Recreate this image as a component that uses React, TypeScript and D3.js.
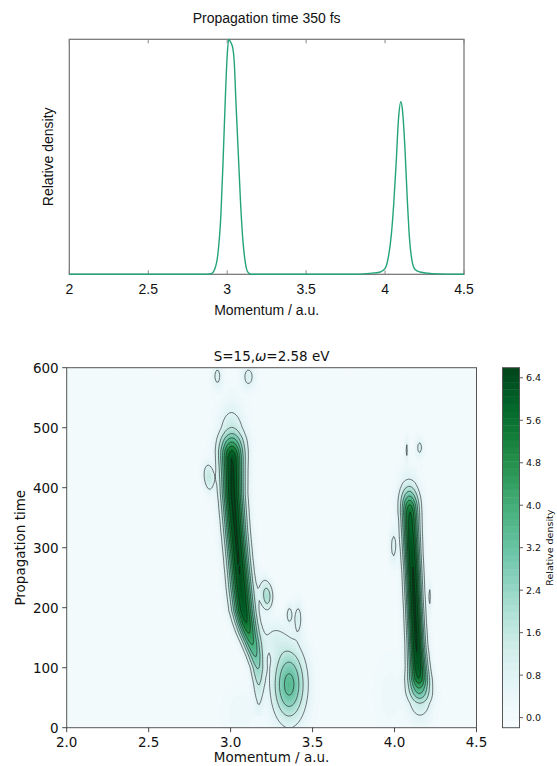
import React, { useMemo } from "react";
import * as d3 from "d3";

// ---------- Top panel: cut at 350 fs ----------
const topTitle = "Propagation time 350 fs";
const topMomentum = [2.0, 2.6, 2.85, 2.9, 2.92, 2.94, 2.96, 2.975, 2.99, 3.0, 3.01, 3.02, 3.035, 3.045, 3.055, 3.07, 3.085, 3.1, 3.115, 3.13, 3.15, 3.4, 3.8, 3.9, 3.97, 4.0, 4.02, 4.04, 4.055, 4.07, 4.085, 4.1, 4.11, 4.125, 4.14, 4.155, 4.17, 4.19, 4.22, 4.3, 4.5];
const topDensity = [0, 0, 0, 0.003, 0.02, 0.08, 0.25, 0.5, 0.78, 0.93, 1.0, 0.99, 0.965, 0.9, 0.74, 0.52, 0.3, 0.14, 0.05, 0.01, 0, 0, 0, 0.004, 0.01, 0.025, 0.07, 0.17, 0.3, 0.47, 0.66, 0.734, 0.7, 0.55, 0.33, 0.15, 0.06, 0.02, 0.01, 0.003, 0];
const topTicks = [2, 2.5, 3, 3.5, 4, 4.5];
const topTickLabels = ["2", "2.5", "3", "3.5", "4", "4.5"];

// ---------- Bottom panel: momentum-time density map ----------
const mapTitleA = "S=15,";
const mapTitleOmega = "ω";
const mapTitleB = "=2.58 eV";

// main ridge near 3.0 a.u.
const ridgeATime = [20, 46, 75, 100, 120, 140, 158, 175, 195, 230, 280, 330, 390, 430, 450, 462, 469, 476, 483, 490, 500, 525, 550, 580];
const ridgeAAmp = [0.3, 0.8, 1.6, 2.4, 3.2, 4.0, 4.8, 5.6, 6.1, 6.35, 6.45, 6.5, 6.58, 6.5, 6.4, 5.6, 4.8, 4.0, 3.2, 2.4, 1.6, 0.8, 0.35, 0.05];
const ridgeACenter = [3.17, 3.172, 3.17, 3.165, 3.15, 3.13, 3.11, 3.095, 3.08, 3.065, 3.047, 3.03, 3.013, 3.01, 3.008, 3.007, 3.007, 3.007, 3.007, 3.007, 3.007, 3.005, 3.005, 3.005];
const ridgeAWidth = [0.02, 0.02, 0.025, 0.03, 0.034, 0.038, 0.041, 0.043, 0.045, 0.045, 0.044, 0.044, 0.045, 0.047, 0.049, 0.051, 0.052, 0.053, 0.054, 0.054, 0.054, 0.053, 0.05, 0.05];

// ridge near 4.1 a.u.
const ridgeBTime = [0, 21, 41, 49, 57, 66, 74, 82, 100, 140, 200, 260, 300, 330, 350, 360, 372, 379, 386, 394, 402, 414, 440, 470];
const ridgeBAmp = [0.3, 0.8, 1.6, 2.4, 3.2, 4.0, 4.8, 5.6, 6.2, 6.5, 6.55, 6.5, 6.3, 6.0, 5.8, 5.6, 4.8, 4.0, 3.2, 2.4, 1.6, 0.8, 0.15, 0.0];
const ridgeBCenter = [4.156, 4.156, 4.155, 4.154, 4.152, 4.15, 4.149, 4.147, 4.143, 4.133, 4.122, 4.112, 4.104, 4.099, 4.096, 4.094, 4.093, 4.092, 4.091, 4.09, 4.089, 4.088, 4.087, 4.087];
const ridgeBWidth = [0.05, 0.05, 0.05, 0.049, 0.048, 0.046, 0.044, 0.042, 0.038, 0.034, 0.033, 0.033, 0.034, 0.035, 0.036, 0.037, 0.038, 0.039, 0.04, 0.04, 0.041, 0.042, 0.045, 0.045];

// isolated lobes: low-momentum lobe, bridge, faint halos, small islands
const lobeMomentum = [3.357, 3.26, 3.06, 3.97, 2.919, 3.109, 2.858, 2.872, 3.205, 3.232, 3.222, 3.358, 3.412, 4.073, 4.153, 3.993, 4.214];
const lobeTime = [72, 150, 25, 55, 586, 585, 425, 410, 232, 222, 210, 190, 184, 464, 467, 302, 219];
const lobeAmp = [3.5, 0.75, 0.35, 0.3, 1.0, 1.05, 0.95, 0.95, 0.95, 0.95, 0.9, 0.95, 1.0, 0.95, 1.0, 1.0, 0.9];
const lobeWidthM = [0.068, 0.06, 0.07, 0.06, 0.022, 0.03, 0.022, 0.02, 0.025, 0.024, 0.022, 0.015, 0.02, 0.007, 0.017, 0.016, 0.007];
const lobeWidthT = [42, 22, 30, 45, 15, 15, 14, 14, 15, 14, 12, 12, 20, 15, 12, 22, 17];

const mapXTicks = [2.0, 2.5, 3.0, 3.5, 4.0, 4.5];
const mapYTicks = [0, 100, 200, 300, 400, 500, 600];
const colorbarRange = [-0.19, 6.59];
const colorbarTicks = [0.0, 0.8, 1.6, 2.4, 3.2, 4.0, 4.8, 5.6, 6.4];
const lineLevels = [0.8, 1.6, 2.4, 3.2, 4.0, 4.8, 5.6, 6.4];
const fillBandCount = 50;

// ---------- layout ----------
const W = 557;
const H = 766;
const T = { left: 69.3, right: 464, top: 39.3, bottom: 274.3 };
const B = { left: 66.7, right: 476.5, top: 367.7, bottom: 727.7 };
const CB = { left: 502.5, right: 519.5 };
const NX = 250;
const NY = 240;

const topFont = "'Liberation Sans', Arial, Helvetica, sans-serif";
const mapFont = "'DejaVu Sans', sans-serif";

export default function App() {
  const tx = d3.scaleLinear().domain([2, 4.5]).range([T.left, T.right]);
  const ty = d3.scaleLinear().domain([0, 1]).range([T.bottom, T.top]);
  const topLine = d3
    .line<number>()
    .x((_, i) => tx(topMomentum[i]))
    .y((d) => ty(d))
    .curve(d3.curveMonotoneX)(topDensity) as string;

  const bx = d3.scaleLinear().domain([2, 4.5]).range([B.left, B.right]);
  const by = d3.scaleLinear().domain([0, 600]).range([B.bottom, B.top]);
  const cy = d3.scaleLinear().domain(colorbarRange).range([B.bottom, B.top]);

  const levels = d3.range(fillBandCount + 1).map(
    (k) => colorbarRange[0] + (k * (colorbarRange[1] - colorbarRange[0])) / fillBandCount
  );
  const bandColor = (k: number) => d3.interpolateBuGn((k + 0.5) / fillBandCount);

  const { fills, lines } = useMemo(() => {
    const aAmp = d3.scaleLinear().domain(ridgeATime).range(ridgeAAmp).clamp(true);
    const aCen = d3.scaleLinear().domain(ridgeATime).range(ridgeACenter).clamp(true);
    const aWid = d3.scaleLinear().domain(ridgeATime).range(ridgeAWidth).clamp(true);
    const bAmp = d3.scaleLinear().domain(ridgeBTime).range(ridgeBAmp).clamp(true);
    const bCen = d3.scaleLinear().domain(ridgeBTime).range(ridgeBCenter).clamp(true);
    const bWid = d3.scaleLinear().domain(ridgeBTime).range(ridgeBWidth).clamp(true);
    const gm = d3.scaleLinear().domain([0, NX]).range([2, 4.5]);
    const gt = d3.scaleLinear().domain([0, NY]).range([600, 0]);

    const values = new Float64Array(NX * NY);
    for (let j = 0; j < NY; j++) {
      const t = gt(j + 0.5);
      const A1 = t < ridgeATime[0] || t > ridgeATime[ridgeATime.length - 1] ? 0 : aAmp(t);
      const c1 = aCen(t), s1 = aWid(t);
      const A2 = t < ridgeBTime[0] || t > ridgeBTime[ridgeBTime.length - 1] ? 0 : bAmp(t);
      const c2 = bCen(t), s2 = bWid(t);
      for (let i = 0; i < NX; i++) {
        const m = gm(i + 0.5);
        let v = A1 * Math.exp(-((m - c1) ** 2) / (2 * s1 * s1)) + A2 * Math.exp(-((m - c2) ** 2) / (2 * s2 * s2));
        for (let k = 0; k < lobeMomentum.length; k++) {
          const dm = (m - lobeMomentum[k]) / lobeWidthM[k];
          const dt = (t - lobeTime[k]) / lobeWidthT[k];
          v += lobeAmp[k] * Math.exp(-0.5 * (dm * dm + dt * dt));
        }
        values[i + j * NX] = v;
      }
    }
    const sx = (B.right - B.left) / NX;
    const sy = (B.bottom - B.top) / NY;
    const proj = d3.geoTransform({
      point(x: number, y: number) {
        (this as any).stream.point(B.left + x * sx, B.top + y * sy);
      },
    });
    const path = d3.geoPath(proj);
    const arr = Array.from(values);
    const fillGen = d3.contours().size([NX, NY]).thresholds(levels.slice(1, -1));
    const fills = fillGen(arr).map((c, idx) => ({ d: path(c as any) || "", k: idx + 1 }));
    const lineGen = d3.contours().size([NX, NY]).thresholds(lineLevels);
    const lines = lineGen(arr).map((c) => path(c as any) || "");
    return { fills, lines };
  }, []);

  return (
    <svg width={W} height={H} style={{ position: "absolute", left: 0, top: 0, background: "#fff" }}>
      {/* ---------- top panel ---------- */}
      <text x={(T.left + T.right) / 2} y={23} textAnchor="middle" fontFamily={topFont} fontSize={14} fill="#111">
        {topTitle}
      </text>
      <rect x={T.left} y={T.top} width={T.right - T.left} height={T.bottom - T.top} fill="none" stroke="#707070" strokeWidth={1.2} />
      {topTicks.map((v, i) => (
        <g key={"tt" + i}>
          <line x1={tx(v)} x2={tx(v)} y1={T.bottom} y2={T.bottom - 4} stroke="#888" strokeWidth={1} />
          <line x1={tx(v)} x2={tx(v)} y1={T.top} y2={T.top + 4} stroke="#888" strokeWidth={1} />
          <text x={tx(v)} y={294} textAnchor="middle" fontFamily={topFont} fontSize={14} fill="#111">
            {topTickLabels[i]}
          </text>
        </g>
      ))}
      <path d={topLine} fill="none" stroke="#22a37b" strokeWidth={1.4} />
      <text x={(T.left + T.right) / 2} y={315} textAnchor="middle" fontFamily={topFont} fontSize={14} fill="#111">
        Momentum / a.u.
      </text>
      <text
        transform={`translate(52.5,${(T.top + T.bottom) / 2}) rotate(-90)`}
        textAnchor="middle"
        fontFamily={topFont}
        fontSize={14}
        fill="#111"
      >
        Relative density
      </text>

      {/* ---------- bottom panel ---------- */}
      <text x={(B.left + B.right) / 2} y={361} textAnchor="middle" fontFamily={mapFont} fontSize={13.5} fill="#111">
        {mapTitleA}
        <tspan fontStyle="italic">{mapTitleOmega}</tspan>
        {mapTitleB}
      </text>
      <clipPath id="plotclip">
        <rect x={B.left} y={B.top} width={B.right - B.left} height={B.bottom - B.top} />
      </clipPath>
      <g clipPath="url(#plotclip)">
        <rect x={B.left} y={B.top} width={B.right - B.left} height={B.bottom - B.top} fill={bandColor(0)} />
        {fills.map((f, i) => (
          <path key={"f" + i} d={f.d} fill={bandColor(f.k)} stroke={bandColor(f.k)} strokeWidth={0.3} />
        ))}
        {lines.map((d, i) => (
          <path key={"l" + i} d={d} fill="none" stroke="#1a1a1a" strokeOpacity={0.75} strokeWidth={0.8} />
        ))}
      </g>
      <rect x={B.left} y={B.top} width={B.right - B.left} height={B.bottom - B.top} fill="none" stroke="#555" strokeWidth={1} />
      {mapXTicks.map((v, i) => (
        <g key={"mx" + i}>
          <line x1={bx(v)} x2={bx(v)} y1={B.bottom} y2={B.bottom + 4.5} stroke="#333" strokeWidth={0.9} />
          <text x={bx(v)} y={746.5} textAnchor="middle" fontFamily={mapFont} fontSize={13.5} fill="#111">
            {v.toFixed(1)}
          </text>
        </g>
      ))}
      {mapYTicks.map((v, i) => (
        <g key={"my" + i}>
          <line x1={B.left - 4.5} x2={B.left} y1={by(v)} y2={by(v)} stroke="#333" strokeWidth={0.9} />
          <text x={B.left - 8} y={by(v) + 4.8} textAnchor="end" fontFamily={mapFont} fontSize={13.5} fill="#111">
            {v}
          </text>
        </g>
      ))}
      <text x={(B.left + B.right) / 2} y={762} textAnchor="middle" fontFamily={mapFont} fontSize={13.5} fill="#111">
        Momentum / a.u.
      </text>
      <text
        transform={`translate(24.5,${(B.top + B.bottom) / 2}) rotate(-90)`}
        textAnchor="middle"
        fontFamily={mapFont}
        fontSize={13.5}
        fill="#111"
      >
        Propagation time
      </text>

      {/* ---------- colorbar ---------- */}
      {d3.range(fillBandCount).map((k) => (
        <rect
          key={"cb" + k}
          x={CB.left}
          y={cy(levels[k + 1])}
          width={CB.right - CB.left}
          height={cy(levels[k]) - cy(levels[k + 1]) + 0.4}
          fill={bandColor(k)}
        />
      ))}
      <rect x={CB.left} y={B.top} width={CB.right - CB.left} height={B.bottom - B.top} fill="none" stroke="#555" strokeWidth={1} />
      {colorbarTicks.map((v, i) => (
        <g key={"ct" + i}>
          <line x1={CB.right} x2={CB.right + 3.5} y1={cy(v)} y2={cy(v)} stroke="#333" strokeWidth={0.8} />
          <text x={CB.right + 6.5} y={cy(v) + 3.4} fontFamily={mapFont} fontSize={9.5} fill="#111">
            {v.toFixed(1)}
          </text>
        </g>
      ))}
      <text
        transform={`translate(553,${(B.top + B.bottom) / 2}) rotate(-90)`}
        textAnchor="middle"
        fontFamily={mapFont}
        fontSize={9.5}
        fill="#111"
      >
        Relative density
      </text>
    </svg>
  );
}
